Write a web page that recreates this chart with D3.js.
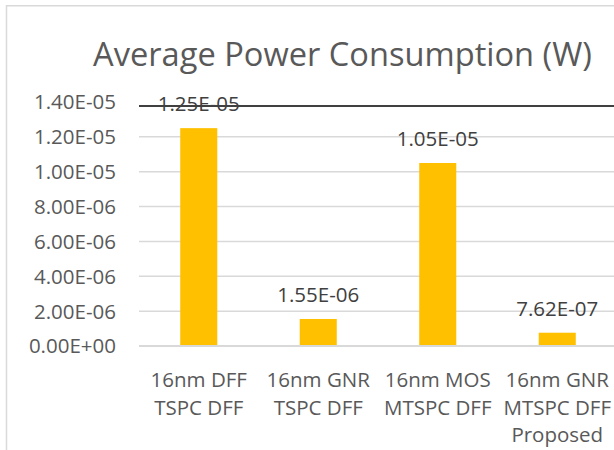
<!DOCTYPE html>
<html>
<head>
<meta charset="utf-8">
<script src="https://cdn.jsdelivr.net/npm/d3@7"></script>
<style>
  html, body { margin: 0; padding: 0; background: #fff; }
  svg { display: block; font-family: "Open Sans", sans-serif; }
</style>
</head>
<body>
<svg id="chart" width="614" height="450"></svg>
<script>
const title = "Average Power Consumption (W)";
const categories = [
  ["16nm DFF", "TSPC DFF"],
  ["16nm GNR", "TSPC DFF"],
  ["16nm MOS", "MTSPC DFF"],
  ["16nm GNR", "MTSPC DFF", "Proposed"]
];
const values = [1.25e-5, 1.55e-6, 1.05e-5, 7.62e-7];
const yTicks = [0, 2e-6, 4e-6, 6e-6, 8e-6, 1e-5, 1.2e-5, 1.4e-5];

function sci(v) {
  if (v === 0) return "0.00E+00";
  const s = v.toExponential(2);
  const [m, e] = s.split("e");
  const n = parseInt(e, 10);
  const sign = n < 0 ? "-" : "+";
  const abs = Math.abs(n);
  return m + "E" + sign + (abs < 10 ? "0" + abs : "" + abs);
}

const svg = d3.select("#chart");
const W = 614, H = 450;
const textColor = "#595959";

// outer chart border (cropped on right/bottom)
svg.append("rect")
  .attr("x", 6.5).attr("y", 5.75)
  .attr("width", 700).attr("height", 500)
  .attr("fill", "none").attr("stroke", "#d9d9d9").attr("stroke-width", 1.5);

const keys = categories.map((c, i) => "c" + i);
const x = d3.scaleBand().domain(keys).range([139, 617])
  .paddingInner(0.69).paddingOuter(0.345);
const y = d3.scaleLinear().domain([0, 1.4e-5]).range([346, 102]);

// gridlines (top one is replaced by the dark line)
svg.append("g").selectAll("line").data(yTicks.filter(t => t > 0 && t < 1.4e-5)).join("line")
  .attr("x1", 139).attr("x2", W)
  .attr("y1", d => y(d)).attr("y2", d => y(d))
  .attr("stroke", "#d9d9d9").attr("stroke-width", 1.5);

// y tick labels
svg.append("g").selectAll("text").data(yTicks).join("text")
  .attr("x", 116).attr("y", d => y(d))
  .attr("dy", "0.36em")
  .attr("text-anchor", "end")
  .attr("font-size", 20.5)
  .attr("fill", textColor)
  .text(d => sci(d));

// bars
svg.append("g").selectAll("rect").data(values).join("rect")
  .attr("x", (d, i) => x(keys[i]))
  .attr("width", x.bandwidth())
  .attr("y", d => y(d))
  .attr("height", d => y(0) - y(d))
  .attr("fill", "#FFC000");

// baseline
svg.append("line")
  .attr("x1", 139).attr("x2", W)
  .attr("y1", y(0)).attr("y2", y(0))
  .attr("stroke", "#d9d9d9").attr("stroke-width", 2);

// dark horizontal line near top
svg.append("line")
  .attr("x1", 139).attr("x2", W)
  .attr("y1", y(1.4e-5) + 4).attr("y2", y(1.4e-5) + 4)
  .attr("stroke", "#404040").attr("stroke-width", 2);

// data labels
svg.append("g").selectAll("text").data(values).join("text")
  .attr("x", (d, i) => x(keys[i]) + x.bandwidth() / 2)
  .attr("y", d => y(d) - 17)
  .attr("text-anchor", "middle")
  .attr("font-size", 20.5)
  .attr("fill", "#404040")
  .text(d => sci(d));

// category labels
const cat = svg.append("g").selectAll("text").data(categories).join("text")
  .attr("x", (d, i) => x(keys[i]) + x.bandwidth() / 2)
  .attr("y", 387)
  .attr("text-anchor", "middle")
  .attr("font-size", 20.5)
  .attr("fill", textColor);
cat.each(function(lines, i) {
  const t = d3.select(this);
  const cx = x(keys[i]) + x.bandwidth() / 2;
  lines.forEach((l, j) => {
    t.append("tspan").attr("x", cx).attr("dy", j === 0 ? 0 : 27.5).text(l);
  });
});

// title, fit to reference width
const tt = svg.append("text")
  .attr("x", 342.5).attr("y", 66)
  .attr("text-anchor", "middle")
  .attr("font-size", 30)
  .attr("fill", textColor)
  .text(title);
const len = tt.node().getComputedTextLength();
tt.attr("font-size", 30 * 499 / len);
</script>
</body>
</html>
